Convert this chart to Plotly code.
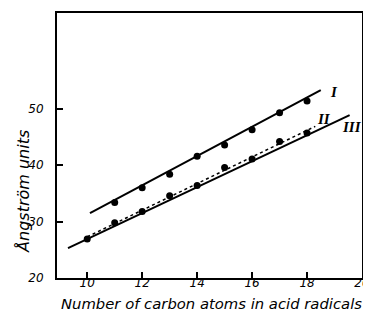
import plotly.graph_objects as go

# Data points
x_I = [11, 12, 13, 14, 15, 16, 17, 18]
y_I = [33.4, 36.0, 38.4, 41.6, 43.6, 46.3, 49.3, 51.4]
x_II = [11, 13, 15, 17]
y_II = [29.8, 34.6, 39.6, 44.2]
x_III = [10, 12, 14, 16, 18]
y_III = [26.9, 31.8, 36.4, 41.1, 45.7]

# Fitted line extents
line_I_x = [10.1, 18.5]
line_I_y = [31.5, 53.3]
line_II_x = [10.0, 18.3]
line_II_y = [27.3, 46.9]
line_III_x = [9.3, 19.55]
line_III_y = [25.3, 48.9]

labels = ["I", "II", "III"]
label_x = [18.76, 18.29, 19.2]
label_y = [53.0, 48.2, 46.8]

x_ticks = [10, 12, 14, 16, 18, 20]
y_ticks = [20, 30, 40, 50]

x_title = "Number of carbon atoms in acid radicals"
y_title = "Ångström units"

fig = go.Figure()
fig.add_trace(go.Scatter(x=line_I_x, y=line_I_y, mode="lines",
                         line=dict(color="black", width=2), showlegend=False))
fig.add_trace(go.Scatter(x=line_II_x, y=line_II_y, mode="lines",
                         line=dict(color="black", width=1.5, dash="3px,3px"), showlegend=False))
fig.add_trace(go.Scatter(x=line_III_x, y=line_III_y, mode="lines",
                         line=dict(color="black", width=2), showlegend=False))
for xs, ys in [(x_I, y_I), (x_II, y_II), (x_III, y_III)]:
    fig.add_trace(go.Scatter(x=xs, y=ys, mode="markers",
                             marker=dict(color="black", size=7), showlegend=False))

for t, lx, ly in zip(labels, label_x, label_y):
    fig.add_annotation(x=lx, y=ly, text=t, showarrow=False, xanchor="left", yanchor="middle",
                       font=dict(family="Liberation Serif", size=15, color="black",
                                 style="italic", weight="bold"))

fig.add_annotation(xref="paper", yref="paper", x=0.505, y=-0.098, text=x_title,
                   showarrow=False, xanchor="center", yanchor="middle",
                   font=dict(family="DejaVu Sans", size=14.8, color="black", style="italic"))
fig.add_annotation(xref="paper", yref="paper", x=-0.108, y=0.325, text=y_title,
                   showarrow=False, xanchor="center", yanchor="middle", textangle=-90,
                   font=dict(family="DejaVu Sans", size=16, color="black", style="italic"))

# The page body adds an 8px offset; the figure is sized so the plot box lands
# where it does in the reference window.
fig.update_layout(
    width=363, height=304,
    margin=dict(l=49, r=9, t=5, b=34),
    paper_bgcolor="white", plot_bgcolor="white",
    font=dict(family="DejaVu Sans", color="black"),
)
fig.update_xaxes(range=[8.9, 20.0], tickvals=x_ticks, ticks="inside", ticklen=6, tickwidth=1.5,
                 tickcolor="black", showline=True, linecolor="black", linewidth=2, mirror=True,
                 showgrid=False, zeroline=False, automargin=False, ticklabelstandoff=-7,
                 ticklabeloverflow="allow",
                 tickfont=dict(size=12, style="italic", family="DejaVu Sans"))
fig.update_yaxes(range=[20, 67], tickvals=y_ticks, ticks="inside", ticklen=6, tickwidth=1.5,
                 tickcolor="black", showline=True, linecolor="black", linewidth=2, mirror=True,
                 showgrid=False, zeroline=False, automargin=False, ticklabelstandoff=9,
                 tickfont=dict(size=12, style="italic", family="DejaVu Sans"))

fig.write_html("out.html")
